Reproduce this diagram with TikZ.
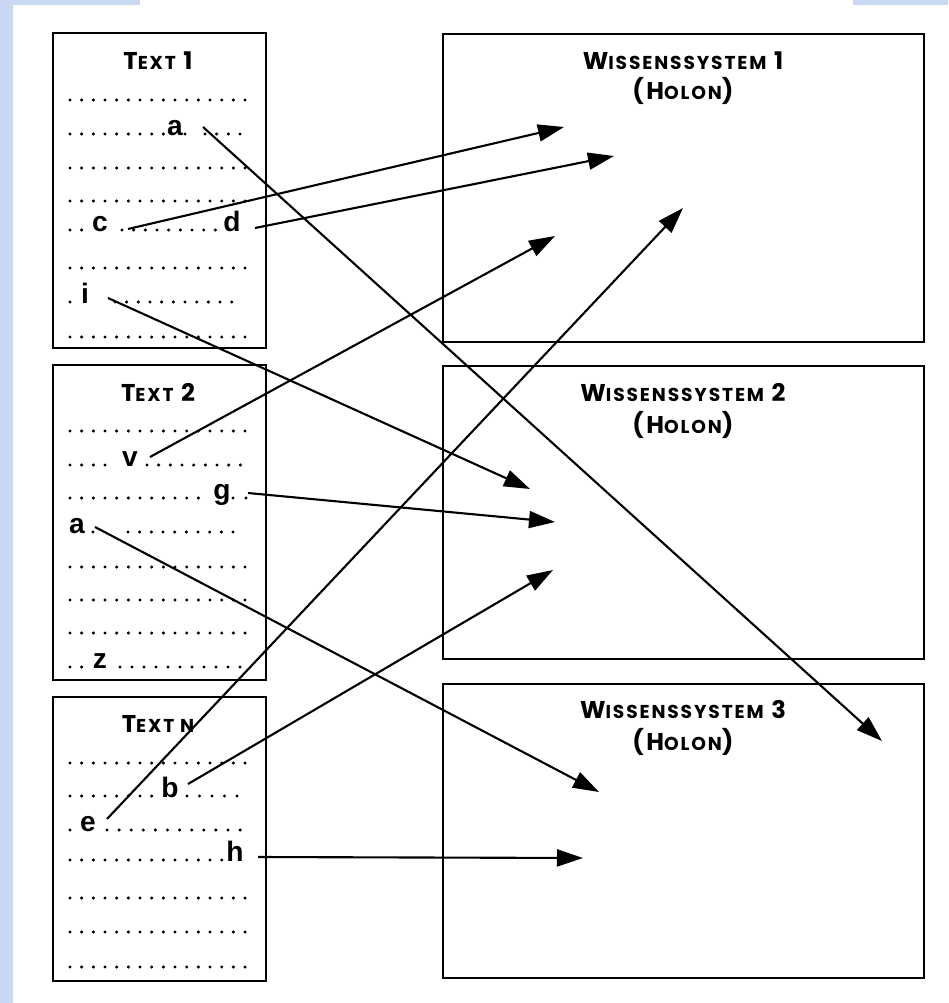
\documentclass[tikz,border=0pt]{standalone}
\usepackage{fontspec}
\setmainfont{Liberation Sans}
\newfontfamily\titlefont{Poppins}[LetterSpace=10]
\usepackage{xcolor}
\usetikzlibrary{arrows.meta}

\definecolor{bgblue}{RGB}{200,216,240}

% small caps, faked
\newcommand{\smc}[1]{{\fontsize{5.3}{6}\selectfont #1}}
% row of dots: [step]{x0}{y}{count}
\newcommand{\dotrow}[4][11.67]{%
  \foreach \k in {1,...,#4} {\fill ({#2+(\k-1)*#1},#3) circle[radius=0.48pt];}}

\begin{document}
\begin{tikzpicture}[x=0.01cm, y=-0.01cm,
    frame/.style={draw, line width=0.8pt},
    title/.style={font=\titlefont\bfseries\fontsize{6.9}{8}\selectfont, anchor=base, inner sep=0},
    letter/.style={font=\bfseries\fontsize{8}{9}\selectfont, anchor=base, inner sep=0},
    link/.style={->, line width=0.6pt},
    >={Triangle[length=0.26cm, width=0.17cm]}]
        \useasboundingbox (0,0) rectangle (948,1003);

        % background
        \fill[bgblue] (0,0) rectangle (13,1003);
        \fill[bgblue] (0,0) rectangle (140,5);
        \fill[bgblue] (853,0) rectangle (948,5);

        % Text 1
        \draw[frame] (53,33) rectangle (266,348);
        \node[title] (t1) at (158,70) {T\smc{EXT} 1};
        \dotrow{70}{100}{16}
        \dotrow{70}{134}{9} \dotrow{185}{134}{1} \dotrow{205}{134}{4}
        \dotrow{70}{168}{16}
        \dotrow{70}{201}{16}
        \dotrow{70}{230}{2} \dotrow{122}{230}{9}
        \dotrow{70}{268}{16}
        \dotrow{70}{302}{1} \dotrow{115}{302}{11}
        \dotrow{70}{337}{16}
        \node[letter] (t1a) at (175,135.5) {a};
        \node[letter] (t1c) at (100,231.5) {c};
        \node[letter] (t1d) at (232,231.5) {d};
        \node[letter] (t1i) at (85,303.5) {i};

        % Text 2
        \draw[frame] (53,365) rectangle (266,680);
        \node[title] (t2) at (158,401) {T\smc{EXT} 2};
        \dotrow{70}{431}{16}
        \dotrow{70}{465}{4} \dotrow{147}{465}{9}
        \dotrow{70}{498}{12} \dotrow[13]{233}{498}{2}
        \dotrow{93}{532}{1} \dotrow{128}{532}{10}
        \dotrow{70}{567}{16}
        \dotrow{70}{600}{16}
        \dotrow{70}{633}{16}
        \dotrow{70}{667}{2} \dotrow[12]{120}{667}{11}
        \node[letter] (t2v) at (130,466.5) {v};
        \node[letter] (t2g) at (222,499.5) {g};
        \node[letter] (t2a) at (77,533.5) {a};
        \node[letter] (t2z) at (100,668.5) {z};

        % Text n
        \draw[frame] (53,697) rectangle (266,981);
        \node[title] (tn) at (158,732) {T\smc{EXT N}};
        \dotrow{70}{763}{16}
        \dotrow{70}{796}{8} \dotrow[12.5]{187}{796}{5}
        \dotrow{70}{830}{1} \dotrow[12.1]{107}{830}{12}
        \dotrow{70}{860}{14}
        \dotrow{70}{898}{16}
        \dotrow{70}{932}{16}
        \dotrow{70}{967}{16}
        \node[letter] (tnb) at (170,797.5) {b};
        \node[letter] (tne) at (88,831.5) {e};
        \node[letter] (tnh) at (235,861.5) {h};

        % Wissenssysteme
        \draw[frame] (443,34) rectangle (924,342);
        \node[title] (w1) at (683,69) {W\smc{ISSENSSYSTEM} 1};
        \node[title] (w1h) at (683,100) {(H\smc{OLON})};
        \draw[frame] (443,366) rectangle (924,659);
        \node[title] (w2) at (683,401) {W\smc{ISSENSSYSTEM} 2};
        \node[title] (w2h) at (683,433) {(H\smc{OLON})};
        \draw[frame] (443,684) rectangle (924,978);
        \node[title] (w3) at (683,718) {W\smc{ISSENSSYSTEM} 3};
        \node[title] (w3h) at (683,750) {(H\smc{OLON})};

        % arrow ends
        \coordinate (w1c) at (564,127);
        \coordinate (w1d) at (614,156);
        \coordinate (w1e) at (683,208);
        \coordinate (w1v) at (555,236);
        \coordinate (w2i) at (530,489);
        \coordinate (w2g) at (555,522);
        \coordinate (w2b) at (553,570);
        \coordinate (w3t) at (882,741);
        \coordinate (w3a) at (599,792);
        \coordinate (w3h) at (583,858);

        % Text 1 -> Wissenssysteme
        \draw[link] (t1a.base) ++(28,-8.5) -- (w3t);
        \draw[link] (t1c.base) ++(28,-2.5) -- (w1c);
        \draw[link] (t1d.base) ++(23,-3.5) -- (w1d);
        \draw[link] (t1i.base) ++(23,-5.5) -- (w2i);

        % Text 2 -> Wissenssysteme
        \draw[link] (t2v.base) ++(20,-9.5) -- (w1v);
        \draw[link] (t2g.base) ++(26,-6.5) -- (w2g);
        \draw[link] (t2a.base) ++(18,-6.5) -- (w3a);

        % Text n -> Wissenssysteme
        \draw[link] (tnb.base) ++(18,-13.5) -- (w2b);
        \draw[link] (tne.base) ++(19,-12.5) -- (w1e);
        \draw[link] (tnh.base) ++(23,-4.5) -- (w3h);
    \end{tikzpicture}
\end{document}
